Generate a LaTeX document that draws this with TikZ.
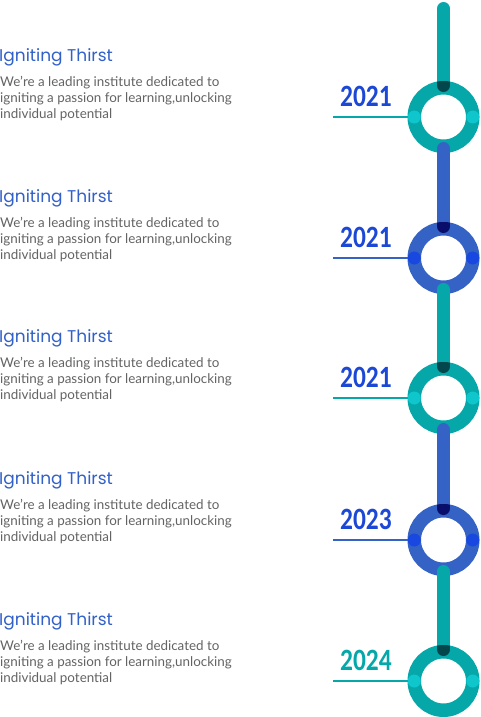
\documentclass[tikz,border=0pt]{standalone}
\usepackage{fontspec}
\setmainfont{Lato}
\newfontfamily\yearfont{Carlito}
\newfontfamily\titlefont{Poppins}
\definecolor{tealc}{HTML}{05A7A9}
\definecolor{tealdark}{HTML}{03474C}
\definecolor{tealdot}{HTML}{10C6CD}
\definecolor{bluec}{HTML}{3563C5}
\definecolor{bluedark}{HTML}{0A0E6B}
\definecolor{bluedot}{HTML}{1848E0}
\definecolor{yearblue}{HTML}{1C48D6}
\definecolor{titleblue}{HTML}{3160C8}
\definecolor{bodygray}{HTML}{636363}
\begin{document}
\begin{tikzpicture}[x=1pt,y=-1pt,
  ring/.style={circle,draw=#1,line width=13.5pt,minimum size=58.5pt,inner sep=0pt},
  bar/.style={draw=#1,line width=13pt,line cap=round,shorten <=31.5pt,shorten >=31.5pt},
  sidedot/.style={circle,fill=#1,minimum size=13pt,inner sep=0pt},
  yearline/.style={draw=#1,line width=2pt},
  year/.style={text=#1,font=\yearfont\bfseries\fontsize{31}{31}\selectfont,xscale=0.82,inner sep=0pt,anchor=west},
  heading/.style={text=titleblue,font=\titlefont\fontsize{17}{17}\selectfont,inner sep=0pt,anchor=base west},
  blurb/.style={text=bodygray,font=\fontsize{13.4}{16}\selectfont,align=left,inner sep=0pt,anchor=base west}]
\useasboundingbox (0,0) rectangle (480,717);

\node[ring=tealc] (r1) at (443.5,117) {};
\node[ring=bluec] (r2) at (443.5,258) {};
\node[ring=tealc] (r3) at (443.5,398) {};
\node[ring=bluec] (r4) at (443.5,540) {};
\node[ring=tealc] (r5) at (443.5,681) {};

\coordinate (top) at (443.5,8.5);
\coordinate (l1) at (333,117);
\coordinate (l2) at (333,258);
\coordinate (l3) at (333,398);
\coordinate (l4) at (333,540);
\coordinate (l5) at (333,681);

\draw[yearline=tealc] (l1) -- (r1);
\draw[yearline=bluec] (l2) -- (r2);
\draw[yearline=tealc] (l3) -- (r3);
\draw[yearline=bluec] (l4) -- (r4);
\draw[yearline=tealc] (l5) -- (r5);

\draw[bar=tealc,shorten <=0pt] (top) -- (r1.center);
\draw[bar=bluec] (r1.center) -- (r2.center);
\draw[bar=tealc] (r2.center) -- (r3.center);
\draw[bar=bluec] (r3.center) -- (r4.center);
\draw[bar=tealc] (r4.center) -- (r5.center);

\begin{scope}
\clip (r1.center) circle (36);
\draw[bar=tealdark,shorten <=0pt] (top) -- (r1.center);
\end{scope}
\begin{scope}
\clip (r2.center) circle (36);
\draw[bar=bluedark] (r1.center) -- (r2.center);
\end{scope}
\begin{scope}
\clip (r3.center) circle (36);
\draw[bar=tealdark] (r2.center) -- (r3.center);
\end{scope}
\begin{scope}
\clip (r4.center) circle (36);
\draw[bar=bluedark] (r3.center) -- (r4.center);
\end{scope}
\begin{scope}
\clip (r5.center) circle (36);
\draw[bar=tealdark] (r4.center) -- (r5.center);
\end{scope}

\node[sidedot=tealdot] (d1w) at ([xshift=6.75pt]r1.west) {};
\node[sidedot=tealdot] (d1e) at ([xshift=-6.75pt]r1.east) {};
\node[sidedot=bluedot] (d2w) at ([xshift=6.75pt]r2.west) {};
\node[sidedot=bluedot] (d2e) at ([xshift=-6.75pt]r2.east) {};
\node[sidedot=tealdot] (d3w) at ([xshift=6.75pt]r3.west) {};
\node[sidedot=tealdot] (d3e) at ([xshift=-6.75pt]r3.east) {};
\node[sidedot=bluedot] (d4w) at ([xshift=6.75pt]r4.west) {};
\node[sidedot=bluedot] (d4e) at ([xshift=-6.75pt]r4.east) {};
\node[sidedot=tealdot] (d5w) at ([xshift=6.75pt]r5.west) {};
\node[sidedot=tealdot] (d5e) at ([xshift=-6.75pt]r5.east) {};

\node[year=yearblue] (y1) at (340,96) {2021};
\node[year=yearblue] (y2) at (340,237) {2021};
\node[year=yearblue] (y3) at (340,377) {2021};
\node[year=yearblue] (y4) at (340,519) {2023};
\node[year=tealc] (y5) at (340,660) {2024};

\node[heading] (t1) at (-1,61) {Igniting Thirst};
\node[heading] (t2) at (-1,202) {Igniting Thirst};
\node[heading] (t3) at (-1,342) {Igniting Thirst};
\node[heading] (t4) at (-1,484) {Igniting Thirst};
\node[heading] (t5) at (-1,625) {Igniting Thirst};

\node[blurb] (b1) at (0,118.5) {We're a leading institute dedicated to\\igniting a passion for learning,unlocking\\individual potential};
\node[blurb] (b2) at (0,259.5) {We're a leading institute dedicated to\\igniting a passion for learning,unlocking\\individual potential};
\node[blurb] (b3) at (0,399.5) {We're a leading institute dedicated to\\igniting a passion for learning,unlocking\\individual potential};
\node[blurb] (b4) at (0,541.5) {We're a leading institute dedicated to\\igniting a passion for learning,unlocking\\individual potential};
\node[blurb] (b5) at (0,682.5) {We're a leading institute dedicated to\\igniting a passion for learning,unlocking\\individual potential};
\end{tikzpicture}
\end{document}
